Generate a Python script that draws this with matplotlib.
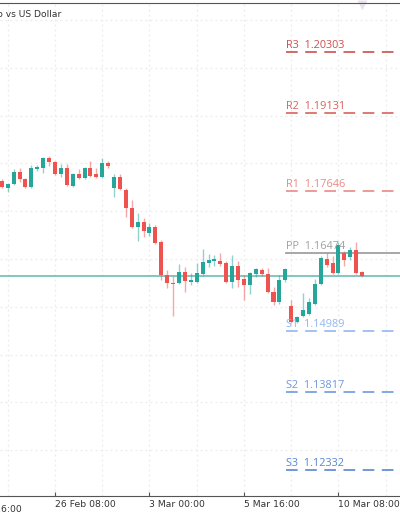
import matplotlib
matplotlib.use("Agg")
import matplotlib.pyplot as plt
import matplotlib.transforms as mtransforms
import numpy as np

# EUR/USD 4h candles, index 0 = 26 Feb 08:00
candle_idx = list(range(-9, 53))
opens = [1.17849, 1.17709, 1.17780, 1.18014, 1.17881, 1.17728, 1.18072, 1.18091, 1.18281, 1.18205,
         1.17976, 1.18091, 1.17748, 1.17976, 1.17900, 1.18091, 1.17976, 1.17919, 1.18186, 1.17709,
         1.17919, 1.17671, 1.17328, 1.16966, 1.17061, 1.16851, 1.16966, 1.16679, 1.16050, 1.15897,
         1.15897, 1.16107, 1.15916, 1.15916, 1.16069, 1.16279, 1.16317, 1.16317, 1.16279, 1.15916,
         1.16221, 1.15973, 1.15859, 1.16069, 1.16145, 1.16069, 1.15726, 1.15535, 1.15954, 1.15459,
         1.15154, 1.15268, 1.15307, 1.15497, 1.15878, 1.16355, 1.16279, 1.16088, 1.16470, 1.16393,
         1.16527, 1.16107]
closes = [1.17735, 1.17786, 1.18020, 1.17881, 1.17728, 1.18091, 1.18116, 1.18281, 1.18205, 1.17976,
          1.18091, 1.17767, 1.17976, 1.17900, 1.18091, 1.17938, 1.17919, 1.18186, 1.18129, 1.17919,
          1.17690, 1.17328, 1.16966, 1.17061, 1.16889, 1.16966, 1.16660, 1.16050, 1.15897, 1.15888,
          1.16107, 1.15935, 1.15954, 1.16088, 1.16298, 1.16336, 1.16355, 1.16260, 1.15916, 1.16221,
          1.15954, 1.15859, 1.16088, 1.16164, 1.16069, 1.15726, 1.15535, 1.15954, 1.16164, 1.15154,
          1.15249, 1.15383, 1.15535, 1.15878, 1.16374, 1.16241, 1.16088, 1.16622, 1.16336, 1.16527,
          1.16088, 1.16031]
highs = [1.17881, 1.17805, 1.18072, 1.18091, 1.17900, 1.18148, 1.18148, 1.18301, 1.18320, 1.18224,
         1.18167, 1.18167, 1.17995, 1.18072, 1.18110, 1.18224, 1.18091, 1.18281, 1.18224, 1.17976,
         1.17976, 1.17709, 1.17481, 1.17233, 1.17137, 1.17042, 1.17004, 1.16718, 1.16145, 1.16031,
         1.16260, 1.16202, 1.16088, 1.16279, 1.16546, 1.16451, 1.16431, 1.16470, 1.16317, 1.16431,
         1.16317, 1.16050, 1.16107, 1.16183, 1.16183, 1.16183, 1.15821, 1.16050, 1.16183, 1.15573,
         1.15268, 1.15707, 1.15611, 1.15973, 1.16412, 1.16470, 1.16412, 1.16679, 1.16508, 1.16584,
         1.16679, 1.16126]
lows = [1.17709, 1.17633, 1.17767, 1.17824, 1.17709, 1.17709, 1.18034, 1.17995, 1.18129, 1.17957,
        1.17919, 1.17748, 1.17728, 1.17881, 1.17881, 1.17919, 1.17900, 1.17900, 1.18091, 1.17538,
        1.17671, 1.17156, 1.16947, 1.16698, 1.16775, 1.16794, 1.16641, 1.15954, 1.15802, 1.15268,
        1.15878, 1.15726, 1.15859, 1.15897, 1.16050, 1.16202, 1.16221, 1.16221, 1.15897, 1.15802,
        1.15821, 1.15573, 1.15688, 1.16011, 1.16031, 1.15707, 1.15478, 1.15497, 1.15916, 1.15135,
        1.15135, 1.15249, 1.15287, 1.15478, 1.15859, 1.16202, 1.16069, 1.16069, 1.16221, 1.16336,
        1.16069, 1.16011]

pivot_names = ["R3", "R2", "R1", "PP", "S1", "S2", "S3"]
pivot_values = [1.20303, 1.19131, 1.17646, 1.16474, 1.14989, 1.13817, 1.12332]
pivot_colors = ["#c9504f", "#d8625d", "#e98a85", "#a0a0a0", "#93b6ee", "#6e97df", "#5a85d4"]

grid_prices = [1.20904, 1.19998, 1.19083, 1.18186, 1.17271, 1.16356, 1.15440, 1.14525, 1.13629, 1.12714]
tick_idx = [0, 16, 32, 48]
tick_labels = ["26 Feb 08:00", "3 Mar 00:00", "5 Mar 16:00", "10 Mar 08:00"]
first_label = "23 Feb 16:00"
last_price = closes[-1]

UP = "#26a69a"
DOWN = "#ef5350"

fig = plt.figure(figsize=(4, 5.16), dpi=100)
fig.patch.set_facecolor("white")
ax = fig.add_axes([0, 20 / 516, 1, 493 / 516])

# price / time scales: candles ~5.9 px apart
ax.set_xlim(-9.313, 58.42)
ax.set_ylim(1.11836, 1.21237)

# grid
for g in grid_prices:
    ax.axhline(g, color="#ebebeb", lw=0.9, dashes=(1.5, 2.5), zorder=0)
for gx in range(-8, 64, 8):
    ax.axvline(gx, color="#ebebeb", lw=0.9, dashes=(1.5, 2.5), zorder=0)

# candles
o = np.array(opens)
c = np.array(closes)
h = np.array(highs)
l = np.array(lows)
x = np.array(candle_idx)
up = c >= o
cols = np.where(up, UP, DOWN)
ax.vlines(x, l, h, colors=cols, lw=1, alpha=0.5, zorder=2)
body_lo = np.minimum(o, c)
body_h = np.maximum(np.abs(c - o), 0.00004)
ax.bar(x, body_h, bottom=body_lo, width=0.68, color=cols, lw=0, zorder=3)

# current price line
ax.axhline(last_price, color="#5fb8ae", lw=1.1, zorder=1)

# pivot levels
for name, val, col in zip(pivot_names, pivot_values, pivot_colors):
    if name == "PP":
        ax.plot([39.1, 58.42], [val, val], color=col, lw=1.3, zorder=1)
    else:
        ax.plot([39.1, 58.42], [val, val], color=col, lw=1.2, dashes=(7, 4.5), zorder=1)
    ax.text(39.1, val + 0.0002, name + "  " + f"{val:.5f}", color=col, fontsize=7.8,
            family="Open Sans", ha="left", va="bottom", zorder=4)

# axes styling
for s in ["left", "right"]:
    ax.spines[s].set_visible(False)
ax.spines["top"].set_color("#555555")
ax.spines["bottom"].set_color("#555555")
ax.set_yticks([])
ax.set_xticks(tick_idx)
ax.set_xticklabels(tick_labels, ha="left", fontsize=6.7, color="#333333")
ax.tick_params(axis="x", direction="in", length=3, color="#555555", pad=3)
ax.text(-16, -0.018, first_label, transform=mtransforms.blended_transform_factory(ax.transData, ax.transAxes),
        fontsize=6.7, color="#333333", ha="left", va="top", clip_on=False)

# title (cut off at the left edge)
ax.text(-0.046, 0.977, "Euro vs US Dollar", transform=ax.transAxes, fontsize=6.6,
        color="#333333", ha="left", va="center", clip_on=False)

# marker at top of last candle
ax.plot([52], [0.995], marker="v", ms=7, color="#e8e2ef", mec="none",
        transform=mtransforms.blended_transform_factory(ax.transData, ax.transAxes), clip_on=False)

fig.savefig("out.png", dpi=100)
